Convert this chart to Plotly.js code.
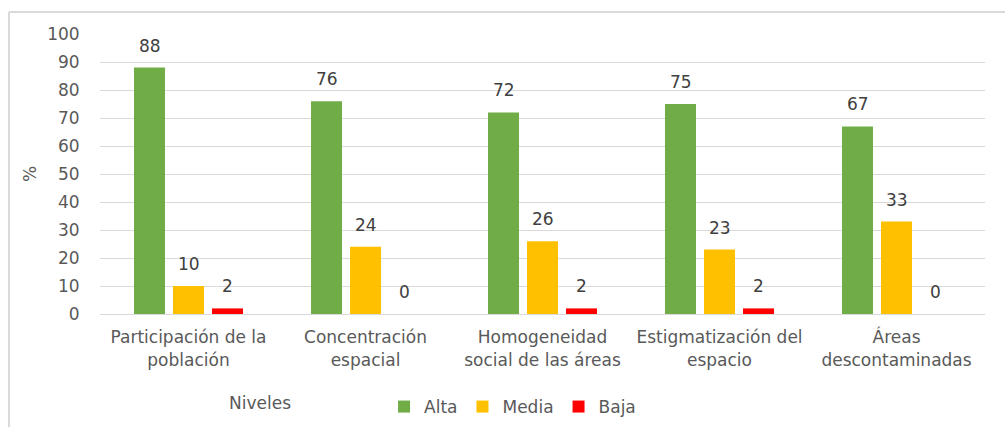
<!DOCTYPE html>
<html><head><meta charset="utf-8">
<script src="https://cdn.plot.ly/plotly-3.0.1.min.js"></script>
<style>html,body{margin:0;padding:0;background:#fff;overflow:hidden}#c{width:1005px;height:427px}</style>
</head><body><div id="c"></div>
<script>
const categories = ["Participación de la<br>población","Concentración<br>espacial","Homogeneidad<br>social de las áreas","Estigmatización del<br>espacio","Áreas<br>descontaminadas"];
const seriesNames = ["Alta", "Media", "Baja"];
const alta = [88, 76, 72, 75, 67];
const media = [10, 24, 26, 23, 33];
const baja = [2, 0, 2, 2, 0];
const yTicks = [0,10,20,30,40,50,60,70,80,90,100];

const FF = "DejaVu Sans, sans-serif";
const font = {family: FF, size: 17, color: "#595959"};
const colors = ['#70AD47','#FFC000','#FF0000'];
const series = [alta, media, baja];
const traces = series.map((vals,i)=>({type:'bar', name:seriesNames[i], x:categories, y:vals,
  marker:{color:colors[i]}, hoverinfo:'none'}));

const W=1005, H=427, L=100, R=20, T=34, B=113;
const pw = W-L-R, ph = H-T-B;
const px = p => (p-L)/pw;
const py = p => 1-(p-T)/ph;

// data labels: anchored to each bar's category and value through the axes
const slot = 39;
const labels = [];
series.forEach((vals,i)=>vals.forEach((v,j)=>labels.push({
  x:categories[j], y:v, xref:'x', yref:'y', text:String(v), showarrow:false,
  xanchor:'center', yanchor:'bottom', xshift:(i-1)*slot, yshift:10,
  font:{family:FF, size:17, color:'#404040'}})));

Plotly.newPlot('c', traces, {
  width:W, height:H, margin:{l:L, r:R, t:T, b:B},
  paper_bgcolor:'#fff', plot_bgcolor:'#fff', font:font,
  barmode:'group', bargap:0.339, bargroupgap:0.205,
  showlegend:true,
  legend:{orientation:'h', x:0.51, xref:'container', xanchor:'center', y:1-407/H, yref:'container', yanchor:'middle',
    font:{family:FF,size:17,color:'#595959'}, itemwidth:30, traceorder:'normal'},
  xaxis:{type:'category', showgrid:false, showline:true, linecolor:'#d9d9d9', linewidth:1, tickfont:font,
    ticks:'outside', ticklen:8, tickcolor:'rgba(0,0,0,0)', automargin:false},
  yaxis:{range:[0,100], tickvals:yTicks, ticktext:yTicks.map(String), showgrid:true, gridcolor:'#d9d9d9', gridwidth:1, zeroline:false, showline:false,
    ticks:'outside', ticklen:16, tickcolor:'rgba(0,0,0,0)', tickfont:font, automargin:false,
    title:{text:'%', font:{family:FF,size:17,color:'#595959'}, standoff:6}},
  annotations:labels.concat([{text:'Niveles', xref:'paper', yref:'paper', x:px(260), y:py(403), xanchor:'center', yanchor:'middle', showarrow:false, font:{family:FF,size:17,color:'#595959'}}]),
  shapes:[
    {type:'line', xref:'paper', yref:'paper', x0:px(9), x1:px(9), y0:py(12), y1:py(440), line:{color:'#d9d9d9', width:2}},
    {type:'line', xref:'paper', yref:'paper', x0:px(9), x1:px(1015), y0:py(12), y1:py(12), line:{color:'#d9d9d9', width:2}}
  ]
}, {staticPlot:true});
</script></body></html>
